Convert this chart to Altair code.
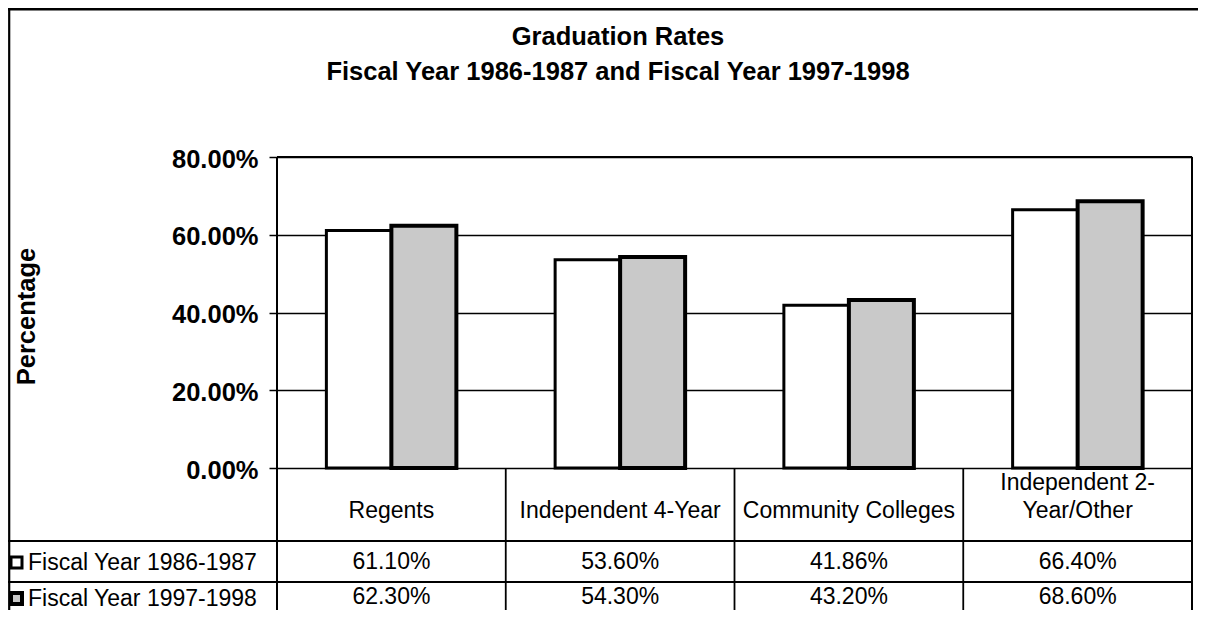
import altair as alt
import pandas as pd

# ---- data ----
categories = ["Regents", "Independent 4-Year", "Community Colleges", "Independent 2-Year/Other"]
header_line1 = ["", "", "", "Independent 2-"]
header_line2 = ["Regents", "Independent 4-Year", "Community Colleges", "Year/Other"]
series = ["Fiscal Year 1986-1987", "Fiscal Year 1997-1998"]
fy_1986_1987 = [61.10, 53.60, 41.86, 66.40]
fy_1997_1998 = [62.30, 54.30, 43.20, 68.60]
y_ticks = [0, 20, 40, 60, 80]
title_lines = ["Graduation Rates", "Fiscal Year 1986-1987 and Fiscal Year 1997-1998"]
y_title = "Percentage"

# ---- layout constants (pixels) ----
W, H = 915, 453          # view: plot + data table
PH = 311                 # plot height
ROW1_LINE, ROW2_LINE = 384, 425
FONT = "Liberation Sans"
BOLD_SIZE = 25.5

bars_df = pd.DataFrame({
    "category": categories * 2,
    "series": [series[0]] * len(categories) + [series[1]] * len(categories),
    "value": fy_1986_1987 + fy_1997_1998,
})
table_df = pd.DataFrame({
    "category": categories,
    "h1": header_line1,
    "h2": header_line2,
    "r1": [f"{v:.2f}%" for v in fy_1986_1987],
    "r2": [f"{v:.2f}%" for v in fy_1997_1998],
})
bounds_outer = pd.DataFrame({"b": [0, len(categories)]})
bounds_inner = pd.DataFrame({"b": list(range(1, len(categories)))})
one = pd.DataFrame({"k": [0]})

pi = 98.75 / 228.75
bars = alt.Chart(bars_df).mark_bar(stroke="black", strokeJoin="miter").encode(
    x=alt.X("category:N", sort=categories,
            scale=alt.Scale(paddingInner=pi, paddingOuter=pi / 2), axis=None),
    xOffset=alt.XOffset("series:N", sort=series,
                        scale=alt.Scale(paddingInner=0, paddingOuter=0)),
    y=alt.Y("value:Q",
            scale=alt.Scale(domain=[0, 80], range=[PH, 0], nice=False),
            axis=alt.Axis(values=y_ticks,
                          labelExpr="format(datum.value, '.2f') + '%'",
                          labelFont=FONT, labelFontSize=BOLD_SIZE, labelFontWeight="bold",
                          labelColor="black", labelPadding=11, labelOffset=2,
                          tickSize=8, tickColor="black", tickWidth=1.5,
                          domain=False, grid=True, gridColor="black", gridWidth=1.3,
                          title=y_title, titleFont=FONT, titleFontSize=BOLD_SIZE,
                          titleFontWeight="bold", titleColor="black",
                          titleX=-251, titleY=159, titleAngle=270,
                          titleAlign="center", titleBaseline="middle")),
    fill=alt.Fill("series:N", sort=series,
                  scale=alt.Scale(domain=series, range=["white", "#c9c9c9"]),
                  legend=alt.Legend(title=None, orient="none", legendX=-272, legendY=394,
                                    direction="vertical", symbolType="square",
                                    symbolSize=121, symbolStrokeColor="black",
                                    symbolStrokeWidth=2, labelFont=FONT,
                                    labelFontSize=23, labelColor="black",
                                    labelOffset=0, rowPadding=10, padding=0,
                                    labelLimit=400)),
    strokeWidth=alt.StrokeWidth("series:N", sort=series,
                                scale=alt.Scale(domain=series, range=[3, 4]), legend=None),
)

top_border = alt.Chart(one).mark_rule(color="black", strokeWidth=2.2).encode(
    y=alt.datum(80), x=alt.value(0), x2=alt.value(W))

vert_outer = alt.Chart(bounds_outer).mark_rule(color="black", strokeWidth=2).encode(
    x=alt.X("b:Q", scale=alt.Scale(domain=[0, len(categories)], nice=False, zero=True), axis=None),
    y=alt.value(0), y2=alt.value(H))
vert_inner = alt.Chart(bounds_inner).mark_rule(color="black", strokeWidth=1.8).encode(
    x=alt.X("b:Q", scale=alt.Scale(domain=[0, len(categories)], nice=False, zero=True), axis=None),
    y=alt.value(PH), y2=alt.value(H))

hline1 = alt.Chart(one).mark_rule(color="black", strokeWidth=1.8).encode(
    y=alt.value(ROW1_LINE), x=alt.value(-269), x2=alt.value(W))
hline2 = alt.Chart(one).mark_rule(color="black", strokeWidth=1.8).encode(
    y=alt.value(ROW2_LINE), x=alt.value(-269), x2=alt.value(W))
frame_top = alt.Chart(one).mark_rule(color="black", strokeWidth=2.5).encode(
    y=alt.value(-147.8), x=alt.value(-269), x2=alt.value(W + 6))
frame_left = alt.Chart(one).mark_rule(color="black", strokeWidth=2.2).encode(
    x=alt.value(-267.8), y=alt.value(-149), y2=alt.value(H))

def table_text(field, ypos):
    return alt.Chart(table_df).mark_text(
        font=FONT, fontSize=23, color="black", align="center", baseline="alphabetic"
    ).encode(
        x=alt.X("category:N", sort=categories, axis=None),
        y=alt.value(ypos),
        text=f"{field}:N",
    )

t_h1 = table_text("h1", 333)
t_h2 = table_text("h2", 361)
t_r1 = table_text("r1", 412)
t_r2 = table_text("r2", 447)

def title_text(txt, ypos):
    return alt.Chart(one).mark_text(
        font=FONT, fontSize=BOLD_SIZE, fontWeight="bold", color="black",
        align="center", baseline="alphabetic"
    ).encode(x=alt.value(341), y=alt.value(ypos), text=alt.value(txt))

title1 = title_text(title_lines[0], -112)
title2 = title_text(title_lines[1], -77)

chart = alt.layer(
    bars, top_border, vert_outer, vert_inner, hline1, hline2, frame_top, frame_left,
    t_h1, t_h2, t_r1, t_r2, title1, title2,
).resolve_scale(x="independent").properties(
    width=W, height=H,
    autosize=alt.AutoSizeParams(type="none"),
    padding={"left": 269, "top": 149, "right": 6, "bottom": 0},
    background="white",
).configure_view(stroke=None)

chart.save("out.html", embed_options={"renderer": "svg", "actions": False})
